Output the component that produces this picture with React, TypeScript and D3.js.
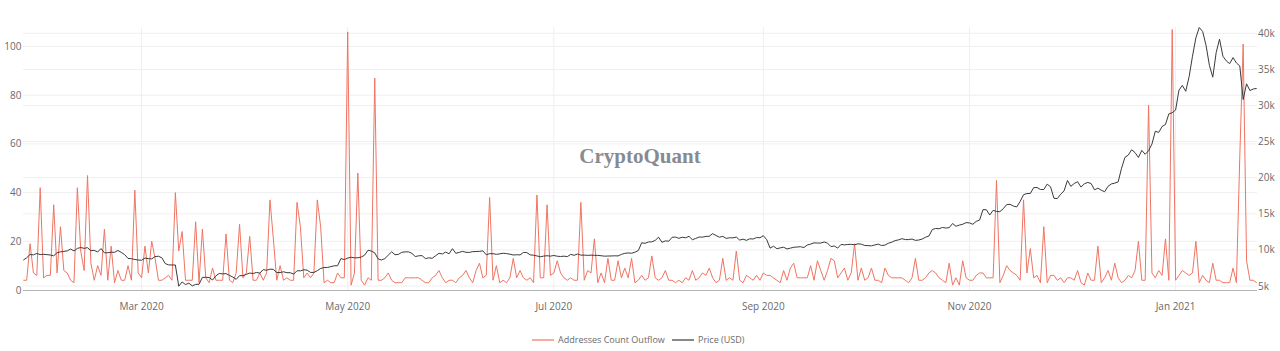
import { useRef, useEffect } from "react";
import * as d3 from "d3";

// daily, 2020-01-26 .. 2021-01-25
const outflow = [
  4, 4, 19, 7, 6, 42, 5, 6, 6, 35,
  7, 26, 8, 7, 4, 3, 42, 16, 8, 47,
  11, 4, 10, 6, 25, 4, 18, 3, 8, 4,
  4, 10, 4, 41, 7, 5, 18, 7, 20, 13,
  4, 4, 5, 6, 4, 40, 16, 24, 4, 4,
  4, 28, 3, 25, 5, 3, 9, 4, 4,
  4, 23, 4, 3, 7, 27, 5, 7, 22, 4,
  4, 7, 4, 7, 37, 21, 4, 10, 4, 5,
  4, 4, 36, 26, 5, 7, 5, 7, 37, 26,
  3, 4, 3, 3, 7, 5, 5, 106, 2, 7,
  48, 4, 2, 5, 4, 87, 4,
  4, 5, 7, 4, 3, 3, 3, 5, 5, 5,
  5, 5, 4, 3, 3, 5, 6, 8, 5, 3,
  4, 4, 3, 5, 6, 8, 5, 3, 8, 11,
  5, 6, 38, 4, 10, 3, 4, 3, 5, 13,
  5, 8, 5, 4, 5, 3, 39, 5, 5, 35,
  6, 7, 12, 7, 5, 4, 5, 4, 4, 36,
  4, 8, 7, 21, 3, 7, 3, 13, 4, 4,
  12, 5, 9, 5, 13, 3, 4, 6, 4, 5,
  14, 5, 4, 5, 8, 4, 4, 3, 4, 3,
  5, 4, 8, 4, 5, 7, 6, 9, 5, 3,
  4, 13, 4, 5, 4, 16, 4, 3, 6, 5,
  4, 6, 4, 7, 6, 6, 5, 4, 3, 8,
  4, 9, 11, 5, 5, 5, 5, 10, 4, 12,
  8, 4, 8, 13, 12, 5, 7, 9, 4, 7,
  19, 4, 9, 4, 5, 9, 4, 4, 3, 9,
  6, 5, 5, 5, 5, 4, 3, 5, 13, 4,
  4, 5, 7, 8, 7, 5, 4, 3, 11, 2,
  5, 2, 12, 5, 4, 4, 6, 7, 7, 5,
  5, 5, 45,
  3, 6, 10, 8, 7, 6, 4, 37, 7, 17,
  5, 6, 3, 26, 3, 6, 6, 4, 5, 3,
  5, 5, 4, 8, 3, 2, 7, 4, 4, 18,
  3, 5, 8, 4, 11, 5, 3, 4, 6, 5,
  8, 20, 4, 4, 76, 7, 5, 8, 6, 21,
  4, 107, 4, 6, 8, 7, 6, 7, 20, 3,
  6, 4, 3, 11, 4, 4, 3, 3, 3, 9,
  3, 55, 101, 12, 4, 4, 3,
];

const price = [
  8597, 8909, 9358, 9316, 9508, 9350,
  9393, 9344, 9293, 9180, 9613, 9729, 9795, 9865, 10116, 9856, 10208, 10326, 10214, 10312, 9889, 9934, 9704, 10185, 9593, 9608, 9686, 9663, 9925, 9651, 9341, 8820, 8785, 8672, 8599,
  8562, 8869, 8787, 8756, 9078, 9122, 8909, 8108, 7923, 7909, 7911, 4971, 5563, 5200, 5392, 5014, 5225, 5238, 6191, 6198, 6185, 5831, 6417, 6734, 6681, 6716, 6469, 6243, 5922, 6430, 6438,
  6606, 6793, 6733, 6868, 6791, 7271, 7176, 7334, 7302, 6865, 6859, 6971, 6845, 6842, 6642, 7116, 7096, 7257, 7189, 6881, 6880, 7117, 7429, 7550, 7570, 7679, 7795, 7807, 8801, 8658,
  8864, 8988, 8897, 8912, 9003, 9268, 9951, 9842, 9593, 8756, 8601, 8804, 9269, 9734, 9328, 9377, 9670, 9726, 9729, 9522, 9081, 9182, 9210, 8791, 8906, 8835, 9181, 9525, 9439, 9700, 9461,
  10167, 9529, 9656, 9800, 9665, 9653, 9759, 9774, 9794, 9870, 9321, 9480, 9475, 9386, 9450, 9538, 9480, 9411, 9289, 9332, 9303, 9648, 9629, 9313, 9264, 9162, 9045, 9143, 9190, 9137,
  9228, 9123, 9087, 9132, 9073, 9375, 9252, 9428, 9277, 9278, 9240, 9276, 9243, 9243, 9192, 9132, 9151, 9159, 9185, 9164, 9374, 9525, 9581, 9536, 9677, 9905, 10990, 10912, 11100, 11111, 11323,
  11759, 11053, 11247, 11205, 11747, 11779, 11601, 11754, 11675, 11878, 11411, 11585, 11784, 11768, 11865, 11893, 12254, 11991, 11758, 11878, 11592, 11681, 11665, 11775, 11366, 11488, 11323, 11542, 11507, 11711, 11680,
  11970, 11414, 10245, 10511, 10170, 10280, 10370, 10131, 10242, 10364, 10400, 10442, 10323, 10680, 10796, 10974, 10948, 10945, 11095, 10938, 10463, 10539, 10246, 10761, 10692, 10750, 10776, 10709, 10844, 10785,
  10620, 10585, 10565, 10680, 10796, 10603, 10669, 10923, 11065, 11297, 11385, 11556, 11428, 11430, 11505, 11320, 11368, 11504, 11752, 11917, 12824, 12965, 12932, 13108, 13031, 13075, 13655, 13272, 13437, 13547, 13781,
  13737, 13550, 13950, 14133, 15579, 15565, 14833, 15479, 15332, 15290, 15701, 16276, 16317, 16068, 15955, 16716, 17645, 17804, 17817, 18621, 18642, 18370, 18364, 19107, 18732, 17150, 17109, 17717, 18177, 19625,
  18802, 19201, 19445, 18699, 19154, 19346, 19191, 18321, 18553, 18264, 18058, 18803, 19142, 19246, 19417, 21310, 22805, 23137, 23869, 23477, 22803, 23783, 23241, 23736, 24664, 26437, 26273, 27084, 27362, 28840, 29002,
  29374, 32127, 32782, 31971, 33992, 36824, 39371, 40797, 40254, 38357, 35566, 33923, 37316, 39187, 36825, 36178, 35792, 36631, 35891, 35468, 30825, 33005, 32067, 32289, 32366,
];

const leftTicks = [0, 20, 40, 60, 80, 100];
const rightTicks = [5000, 10000, 15000, 20000, 25000, 30000, 35000, 40000];
const monthTicks = [new Date(2020, 2, 1), new Date(2020, 4, 1), new Date(2020, 6, 1), new Date(2020, 8, 1), new Date(2020, 10, 1), new Date(2021, 0, 1)];

const RED = "#f07462";
const DARK = "#3a3a3a";
const GRID = "#efefef";
const TXT = "#6a6a6a";
const FONT = "'Open Sans', Verdana, sans-serif";

export default function App() {
  const svgRef = useRef<SVGSVGElement>(null);

  useEffect(() => {
    if (!svgRef.current) return;
    const svg = d3.select(svgRef.current);
    svg.selectAll("*").remove();

    const start = new Date(2020, 0, 26);
    const days = d3.timeDay.range(start, d3.timeDay.offset(start, outflow.length));

    const x = d3.scaleTime().domain([days[0], days[days.length - 1]]).range([23.3, 1256.7]);
    const yL = d3.scaleLinear().domain([0, 100]).range([290, 46.5]);
    const yR = d3.scaleLinear().domain([5000, 40000]).range([286, 33.3]);

    // grid
    const grid = svg.append("g");
    grid.selectAll(".gl").data(leftTicks.slice(1)).enter().append("line")
      .attr("x1", 23).attr("x2", 1257).attr("y1", d => yL(d)).attr("y2", d => yL(d))
      .attr("stroke", GRID).attr("stroke-width", 1);
    grid.selectAll(".gr").data(rightTicks).enter().append("line")
      .attr("x1", 23).attr("x2", 1257).attr("y1", d => yR(d)).attr("y2", d => yR(d))
      .attr("stroke", GRID).attr("stroke-width", 1);
    grid.selectAll(".gx").data(monthTicks).enter().append("line")
      .attr("x1", d => x(d)).attr("x2", d => x(d)).attr("y1", 27).attr("y2", 290)
      .attr("stroke", GRID).attr("stroke-width", 1);

    // axis line
    svg.append("line").attr("x1", 23).attr("x2", 1257).attr("y1", 290.5).attr("y2", 290.5)
      .attr("stroke", "#b5b5b5").attr("stroke-width", 1);

    // tick labels
    svg.append("g").selectAll("text").data(leftTicks).enter().append("text")
      .attr("x", 21.5).attr("y", d => yL(d)).attr("dy", "0.35em").attr("text-anchor", "end")
      .attr("font-family", FONT).attr("font-size", 10).attr("fill", TXT).text(d => String(d));
    svg.append("g").selectAll("text").data(rightTicks).enter().append("text")
      .attr("x", 1258).attr("y", d => yR(d)).attr("dy", "0.35em").attr("text-anchor", "start")
      .attr("font-family", FONT).attr("font-size", 10).attr("fill", TXT).text(d => `${d / 1000}k`);
    svg.append("g").selectAll("text").data(monthTicks).enter().append("text")
      .attr("x", d => x(d)).attr("y", 306).attr("dy", "0.35em").attr("text-anchor", "middle")
      .attr("font-family", FONT).attr("font-size", 10).attr("fill", TXT).text(d => d3.timeFormat("%b %Y")(d));

    // watermark
    svg.append("text").attr("x", 640).attr("y", 163).attr("text-anchor", "middle")
      .attr("font-family", "'Liberation Serif', 'DejaVu Serif', serif").attr("font-size", 21).attr("font-weight", 700)
      .attr("fill", "#868b91").text("CryptoQuant");

    // series
    const redLine = d3.line<number>().x((_, i) => x(days[i])).y(d => yL(d));
    const priceLine = d3.line<number>().x((_, i) => x(days[i])).y(d => yR(d));
    svg.append("path").datum(outflow).attr("d", redLine).attr("fill", "none")
      .attr("stroke", RED).attr("stroke-width", 1).attr("stroke-linejoin", "round");
    svg.append("path").datum(price).attr("d", priceLine).attr("fill", "none")
      .attr("stroke", DARK).attr("stroke-width", 1).attr("stroke-linejoin", "round");

    // legend
    const lg = svg.append("g").attr("font-family", FONT).attr("font-size", 9).attr("fill", TXT);
    lg.append("line").attr("x1", 532).attr("x2", 554).attr("y1", 340).attr("y2", 340).attr("stroke", RED).attr("stroke-width", 1.2);
    lg.append("text").attr("x", 558).attr("y", 340).attr("dy", "0.35em").text("Addresses Count Outflow");
    lg.append("line").attr("x1", 672).attr("x2", 694).attr("y1", 340).attr("y2", 340).attr("stroke", DARK).attr("stroke-width", 1.2);
    lg.append("text").attr("x", 698).attr("y", 340).attr("dy", "0.35em").text("Price (USD)");
  }, []);

  return (
    <svg ref={svgRef} width={1280} height={351}
      style={{ position: "absolute", left: 0, top: 0, background: "#fff", display: "block" }} />
  );
}
